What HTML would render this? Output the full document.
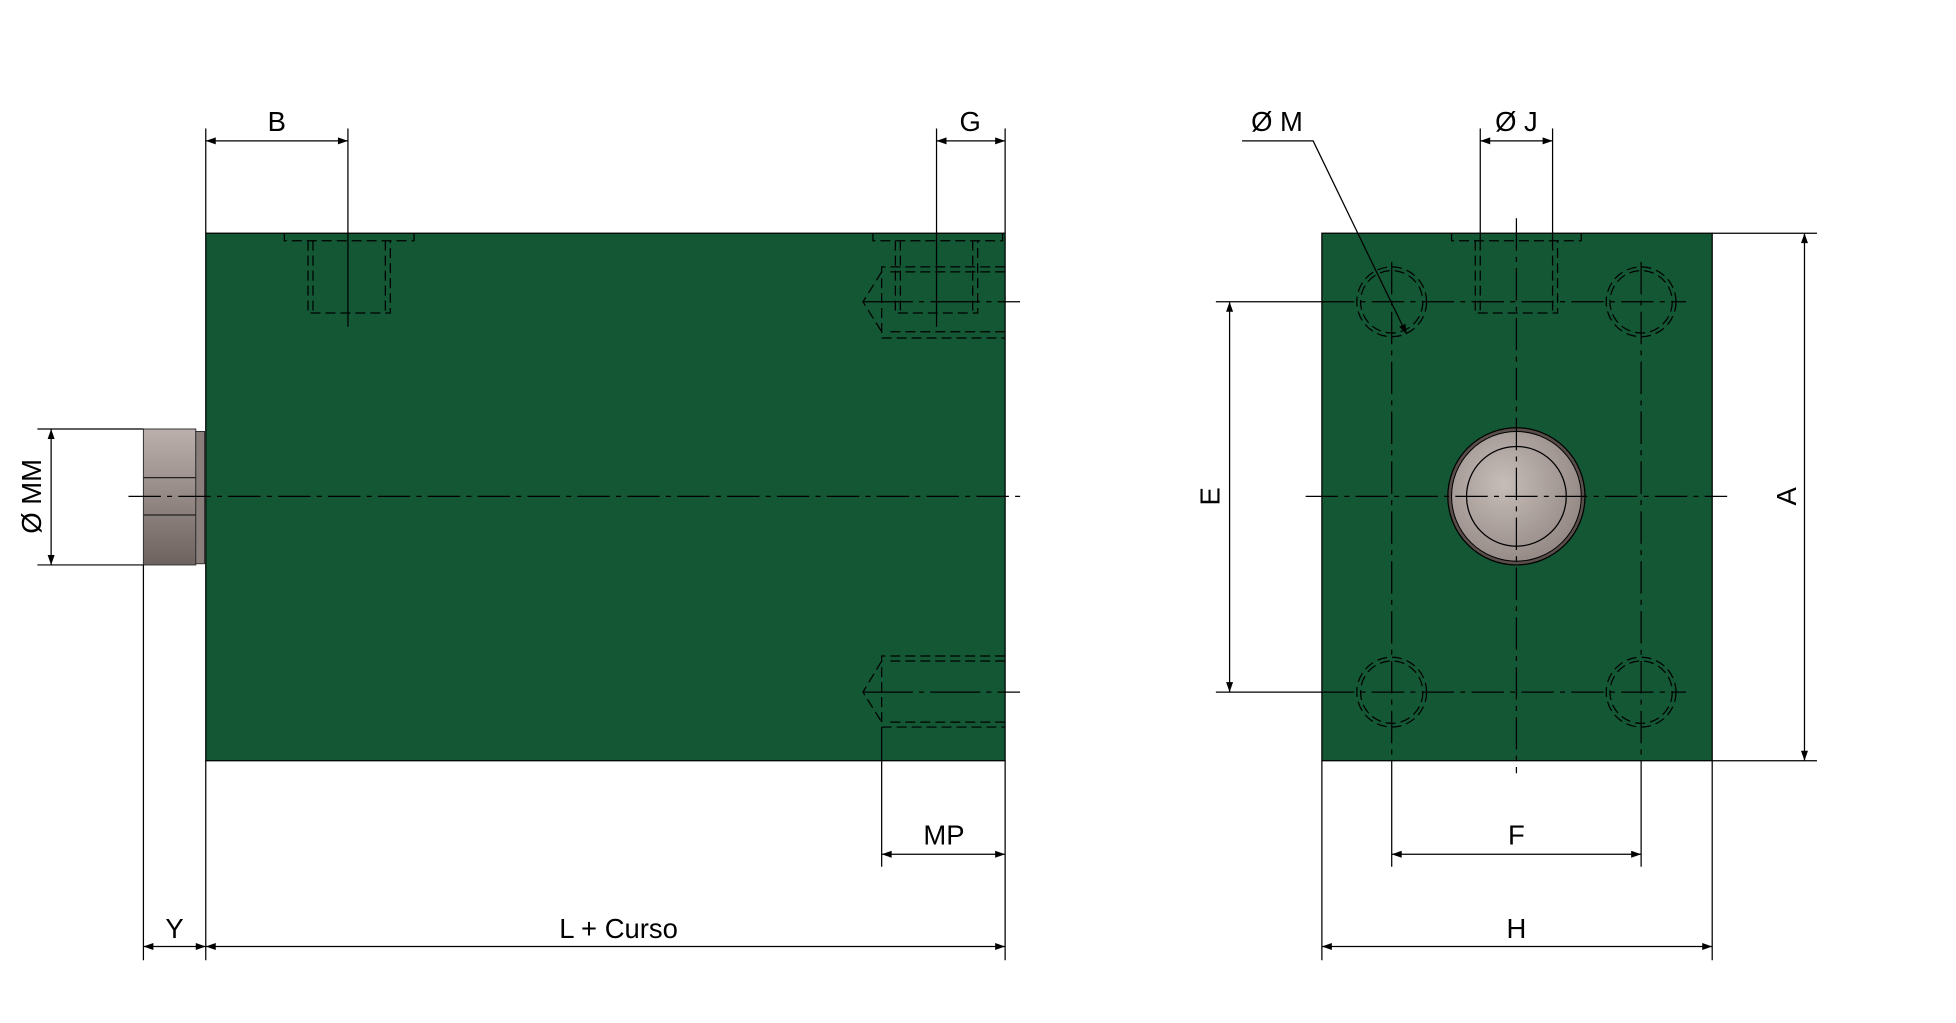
<!DOCTYPE html>
<html><head><meta charset="utf-8"><style>html,body{margin:0;padding:0;background:#fff}svg{display:block}</style></head><body>
<svg width="1956" height="1023" viewBox="0 0 1568.5 820.3" preserveAspectRatio="none" xmlns="http://www.w3.org/2000/svg" font-family="Liberation Sans, sans-serif" font-size="22">
<defs>
<marker id="a" viewBox="0 0 10 10" refX="10" refY="5" markerWidth="10" markerHeight="8" orient="auto-start-reverse" markerUnits="userSpaceOnUse"><path d="M0,1.5 L10,5 L0,8.5z" fill="#000"/></marker>
<linearGradient id="g" x1="0" y1="0" x2="0" y2="1"><stop offset="0" stop-color="#bcb0ad"/><stop offset="1" stop-color="#6e625f"/></linearGradient>
<radialGradient id="rg" cx="0.4" cy="0.4" r="0.7"><stop offset="0" stop-color="#c6bcb8"/><stop offset="1" stop-color="#8f8480"/></radialGradient>
</defs>
<rect x="165" y="187" width="641" height="423" fill="#135734" stroke="#000" stroke-width="1"/>
<rect x="115" y="344" width="42" height="109" fill="url(#g)" stroke="#333" stroke-width="0.8"/>
<rect x="157" y="346" width="7" height="106" fill="#8a7e7a" stroke="#333" stroke-width="0.8"/>
<line x1="115" y1="383" x2="157" y2="383" stroke="#222"/><line x1="115" y1="413" x2="157" y2="413" stroke="#222"/>
<g stroke="#000" stroke-width="1" fill="none">
<line x1="103" y1="398" x2="818" y2="398" stroke-dasharray="26,5,4,5"/>
<g stroke-dasharray="8,4">
<path d="M228,187 V193 H332 V187"/><path d="M247,193 V251 H313 V193 M251,193 V251 M309,193 V251"/>
<path d="M700,187 V193 H804 V187"/><path d="M718,193 V251 H784 V193 M722,193 V251 M780,193 V251"/>
<path d="M806,214 H707 V271 H806 M806,218 H711 M806,266 H711 M707,218 L692,242 L707,266"/>
<path d="M806,526 H707 V583 H806 M806,530 H711 M806,579 H711 M707,530 L692,555 L707,579"/>
</g>
<line x1="692" y1="242" x2="818" y2="242" stroke-dasharray="40,5,4,5"/>
<line x1="692" y1="555" x2="818" y2="555" stroke-dasharray="40,5,4,5"/>
<line x1="279" y1="103" x2="279" y2="262"/><line x1="751" y1="103" x2="751" y2="262"/>
<line x1="165" y1="103" x2="165" y2="187"/><line x1="806" y1="103" x2="806" y2="187"/>
<line x1="165" y1="113" x2="279" y2="113" marker-start="url(#a)" marker-end="url(#a)"/>
<line x1="751" y1="113" x2="806" y2="113" marker-start="url(#a)" marker-end="url(#a)"/>
<line x1="30" y1="344" x2="115" y2="344"/><line x1="30" y1="453" x2="115" y2="453"/>
<line x1="41" y1="344" x2="41" y2="453" marker-start="url(#a)" marker-end="url(#a)"/>
<line x1="115" y1="453" x2="115" y2="770"/><line x1="165" y1="610" x2="165" y2="770"/><line x1="806" y1="610" x2="806" y2="770"/>
<line x1="707" y1="583" x2="707" y2="695"/>
<line x1="115" y1="759" x2="165" y2="759" marker-start="url(#a)" marker-end="url(#a)"/>
<line x1="165" y1="759" x2="806" y2="759" marker-start="url(#a)" marker-end="url(#a)"/>
<line x1="707" y1="685" x2="806" y2="685" marker-start="url(#a)" marker-end="url(#a)"/>
</g>
<rect x="1060" y="187" width="313" height="423" fill="#135734" stroke="#000" stroke-width="1"/>
<circle cx="1216" cy="398" r="55" fill="#5a4e4b" stroke="#000"/>
<circle cx="1216" cy="398" r="52" fill="url(#rg)" stroke="#000" stroke-width="0.8"/>
<circle cx="1216" cy="398" r="40" fill="none" stroke="#000" stroke-width="1"/>
<g stroke="#000" stroke-width="1" fill="none">
<g stroke-dasharray="8,4">
<circle cx="1116" cy="242" r="25"/><circle cx="1116" cy="242" r="28"/>
<circle cx="1316" cy="242" r="25"/><circle cx="1316" cy="242" r="28"/>
<circle cx="1116" cy="555" r="25"/><circle cx="1116" cy="555" r="28"/>
<circle cx="1316" cy="555" r="25"/><circle cx="1316" cy="555" r="28"/>
<path d="M1164,187 V193 H1268 V187"/><path d="M1183,193 V251 H1249 V193 M1187,193 V251 M1245,193 V251"/>
</g>
<g stroke-dasharray="26,5,4,5">
<line x1="1216" y1="175" x2="1216" y2="620"/>
<line x1="1047" y1="398" x2="1385" y2="398"/>
<line x1="1060" y1="242" x2="1352" y2="242"/><line x1="1060" y1="555" x2="1352" y2="555"/>
<line x1="1116" y1="210" x2="1116" y2="610"/><line x1="1316" y1="210" x2="1316" y2="610"/>
</g>
<line x1="975" y1="242" x2="1060" y2="242"/><line x1="975" y1="555" x2="1060" y2="555"/>
<line x1="1116" y1="610" x2="1116" y2="695"/><line x1="1316" y1="610" x2="1316" y2="695"/>
<line x1="1187" y1="103" x2="1187" y2="193"/><line x1="1245" y1="103" x2="1245" y2="193"/>
<line x1="1187" y1="113" x2="1245" y2="113" marker-start="url(#a)" marker-end="url(#a)"/>
<polyline points="996,113 1053,113 1128,268" marker-end="url(#a)"/>
<line x1="986" y1="242" x2="986" y2="555" marker-start="url(#a)" marker-end="url(#a)"/>
<line x1="1373" y1="187" x2="1457" y2="187"/><line x1="1373" y1="610" x2="1457" y2="610"/>
<line x1="1447" y1="187" x2="1447" y2="610" marker-start="url(#a)" marker-end="url(#a)"/>
<line x1="1060" y1="610" x2="1060" y2="770"/><line x1="1373" y1="610" x2="1373" y2="770"/>
<line x1="1116" y1="685" x2="1316" y2="685" marker-start="url(#a)" marker-end="url(#a)"/>
<line x1="1060" y1="759" x2="1373" y2="759" marker-start="url(#a)" marker-end="url(#a)"/>
</g>
<g fill="#000" text-anchor="middle">
<text x="222" y="105">B</text><text x="778" y="105">G</text>
<text x="140" y="752">Y</text><text x="496" y="752">L + Curso</text><text x="757" y="677">MP</text>
<text transform="translate(33,398) rotate(-90)">Ø MM</text>
<text x="1024" y="105">Ø M</text><text x="1216" y="105">Ø J</text>
<text transform="translate(978,398) rotate(-90)">E</text>
<text transform="translate(1440,398) rotate(-90)">A</text>
<text x="1216" y="677">F</text><text x="1216" y="752">H</text>
</g>
</svg>
</body></html>
